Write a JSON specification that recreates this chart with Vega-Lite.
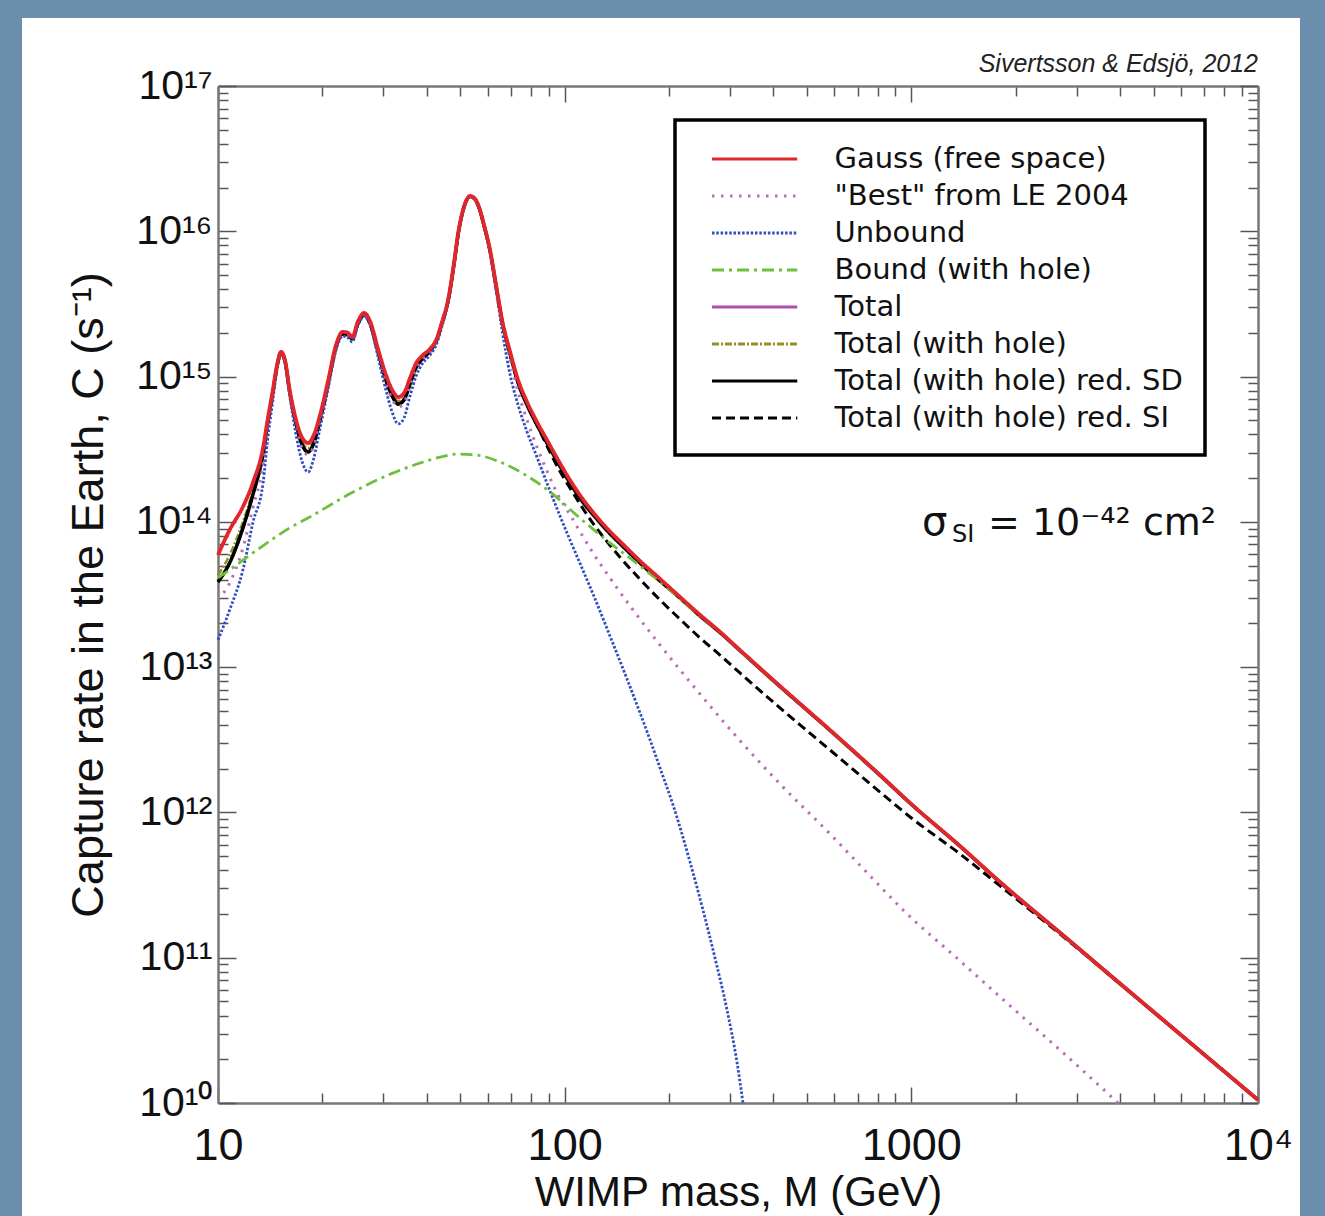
{
  "$schema": "https://vega.github.io/schema/vega-lite/v6.json",
  "width": 1278,
  "height": 1198,
  "autosize": {"type": "none"},
  "padding": {"left": 22, "top": 18, "right": 25, "bottom": 0},
  "background": "#6a8eab",
  "config": {
    "view": {"fill": "white", "stroke": null},
    "legend": {"strokeWidth": 3.5},
    "axis": {"grid": false}
  },
  "title": {"text": "Sivertsson & Edsjö, 2012", "anchor": "end", "orient": "top", "frame": "group", "offset": -79, "dx": -42, "font": "Liberation Sans", "fontStyle": "italic", "fontSize": 25, "fontWeight": "normal", "color": "#222", "baseline": "alphabetic"},
  "data": {"values": [
    {"s":"gauss","m":10,"c":5.92e13},{"s":"gauss","m":10.8,"c":8.79e13},{"s":"gauss","m":11.8,"c":1.27e14},{"s":"gauss","m":12.6,"c":1.85e14},{"s":"gauss","m":13.5,"c":3.27e14},{"s":"gauss","m":13.9,"c":5.02e14},{"s":"gauss","m":14.4,"c":8.09e14},{"s":"gauss","m":14.8,"c":1.2e15},{"s":"gauss","m":15.2,"c":1.48e15},{"s":"gauss","m":15.6,"c":1.3e15},{"s":"gauss","m":16.1,"c":8.09e14},{"s":"gauss","m":16.8,"c":5.02e14},{"s":"gauss","m":17.5,"c":3.78e14},{"s":"gauss","m":18.2,"c":3.49e14},{"s":"gauss","m":18.9,"c":3.96e14},{"s":"gauss","m":19.7,"c":5.44e14},{"s":"gauss","m":20.8,"c":9.47e14},{"s":"gauss","m":21.9,"c":1.65e15},{"s":"gauss","m":22.9,"c":2.03e15},{"s":"gauss","m":23.7,"c":2e15},{"s":"gauss","m":24.4,"c":1.87e15},{"s":"gauss","m":25.3,"c":2.38e15},{"s":"gauss","m":26.4,"c":2.74e15},{"s":"gauss","m":27.5,"c":2.38e15},{"s":"gauss","m":28.9,"c":1.57e15},{"s":"gauss","m":30.5,"c":1.03e15},{"s":"gauss","m":31.8,"c":8.09e14},{"s":"gauss","m":33.1,"c":7.23e14},{"s":"gauss","m":34.4,"c":7.71e14},{"s":"gauss","m":35.8,"c":9.77e14},{"s":"gauss","m":37.3,"c":1.24e15},{"s":"gauss","m":38.8,"c":1.39e15},{"s":"gauss","m":40.9,"c":1.55e15},{"s":"gauss","m":42.6,"c":1.79e15},{"s":"gauss","m":44.3,"c":2.38e15},{"s":"gauss","m":46.1,"c":3.37e15},{"s":"gauss","m":48,"c":6.15e15},{"s":"gauss","m":49.3,"c":9.73e15},{"s":"gauss","m":50.9,"c":1.4e16},{"s":"gauss","m":52.3,"c":1.67e16},{"s":"gauss","m":53.3,"c":1.75e16},{"s":"gauss","m":54.8,"c":1.7e16},{"s":"gauss","m":56.6,"c":1.47e16},{"s":"gauss","m":58.5,"c":1.11e16},{"s":"gauss","m":60.9,"c":7.43e15},{"s":"gauss","m":63.4,"c":4.27e15},{"s":"gauss","m":66,"c":2.45e15},{"s":"gauss","m":69.6,"c":1.48e15},{"s":"gauss","m":73.4,"c":9.47e14},{"s":"gauss","m":77.9,"c":6.68e14},{"s":"gauss","m":83.2,"c":4.87e14},{"s":"gauss","m":88.9,"c":3.66e14},{"s":"gauss","m":95.7,"c":2.67e14},{"s":"gauss","m":103.6,"c":1.94e14},{"s":"gauss","m":112.2,"c":1.46e14},{"s":"gauss","m":120.7,"c":1.164e14},{"s":"gauss","m":135.1,"c":8.59e13},{"s":"gauss","m":144.4,"c":7.34e13},{"s":"gauss","m":165,"c":5.38e13},{"s":"gauss","m":188.4,"c":4.05e13},{"s":"gauss","m":215.1,"c":3.04e13},{"s":"gauss","m":245.7,"c":2.29e13},{"s":"gauss","m":280.6,"c":1.75e13},{"s":"gauss","m":320.4,"c":1.31e13},{"s":"gauss","m":418,"c":7.41e12},{"s":"gauss","m":582.8,"c":3.69e12},{"s":"gauss","m":812,"c":1.81e12},{"s":"gauss","m":1000,"c":1.14e12},{"s":"gauss","m":1382,"c":5.87e11},{"s":"gauss","m":1803,"c":3.32e11},{"s":"gauss","m":2869,"c":1.3e11},{"s":"gauss","m":3920,"c":6.92e10},{"s":"gauss","m":6803,"c":2.28e10},{"s":"gauss","m":10000,"c":1.05e10},

    {"s":"tot","m":10,"c":5.92e13},{"s":"tot","m":10.8,"c":8.79e13},{"s":"tot","m":11.8,"c":1.27e14},{"s":"tot","m":12.6,"c":1.85e14},{"s":"tot","m":13.5,"c":3.27e14},{"s":"tot","m":13.9,"c":5.02e14},{"s":"tot","m":14.4,"c":8.09e14},{"s":"tot","m":14.8,"c":1.2e15},{"s":"tot","m":15.2,"c":1.48e15},{"s":"tot","m":15.6,"c":1.3e15},{"s":"tot","m":16.1,"c":8.09e14},{"s":"tot","m":16.8,"c":5.02e14},{"s":"tot","m":17.5,"c":3.78e14},{"s":"tot","m":18.2,"c":3.49e14},{"s":"tot","m":18.9,"c":3.96e14},{"s":"tot","m":19.7,"c":5.44e14},{"s":"tot","m":20.8,"c":9.47e14},{"s":"tot","m":21.9,"c":1.65e15},{"s":"tot","m":22.9,"c":2.03e15},{"s":"tot","m":23.7,"c":2e15},{"s":"tot","m":24.4,"c":1.87e15},{"s":"tot","m":25.3,"c":2.38e15},{"s":"tot","m":26.4,"c":2.74e15},{"s":"tot","m":27.5,"c":2.38e15},{"s":"tot","m":28.9,"c":1.57e15},{"s":"tot","m":30.5,"c":1.03e15},{"s":"tot","m":31.8,"c":8.09e14},{"s":"tot","m":33.1,"c":7.23e14},{"s":"tot","m":34.4,"c":7.71e14},{"s":"tot","m":35.8,"c":9.77e14},{"s":"tot","m":37.3,"c":1.24e15},{"s":"tot","m":38.8,"c":1.39e15},{"s":"tot","m":40.9,"c":1.55e15},{"s":"tot","m":42.6,"c":1.79e15},{"s":"tot","m":44.3,"c":2.38e15},{"s":"tot","m":46.1,"c":3.37e15},{"s":"tot","m":48,"c":6.15e15},{"s":"tot","m":49.3,"c":9.73e15},{"s":"tot","m":50.9,"c":1.4e16},{"s":"tot","m":52.3,"c":1.67e16},{"s":"tot","m":53.3,"c":1.75e16},{"s":"tot","m":54.8,"c":1.7e16},{"s":"tot","m":56.6,"c":1.47e16},{"s":"tot","m":58.5,"c":1.11e16},{"s":"tot","m":60.9,"c":7.43e15},{"s":"tot","m":63.4,"c":4.27e15},{"s":"tot","m":66,"c":2.45e15},{"s":"tot","m":69.6,"c":1.48e15},{"s":"tot","m":73.4,"c":9.47e14},{"s":"tot","m":77.9,"c":6.68e14},{"s":"tot","m":83.2,"c":4.87e14},{"s":"tot","m":88.9,"c":3.66e14},{"s":"tot","m":95.7,"c":2.67e14},{"s":"tot","m":103.6,"c":1.94e14},{"s":"tot","m":112.2,"c":1.46e14},{"s":"tot","m":120.7,"c":1.164e14},{"s":"tot","m":135.1,"c":8.59e13},{"s":"tot","m":144.4,"c":7.34e13},{"s":"tot","m":165,"c":5.38e13},{"s":"tot","m":188.4,"c":4.05e13},{"s":"tot","m":215.1,"c":3.04e13},{"s":"tot","m":245.7,"c":2.29e13},{"s":"tot","m":280.6,"c":1.75e13},{"s":"tot","m":320.4,"c":1.31e13},{"s":"tot","m":418,"c":7.41e12},{"s":"tot","m":582.8,"c":3.69e12},{"s":"tot","m":812,"c":1.81e12},{"s":"tot","m":1000,"c":1.14e12},{"s":"tot","m":1382,"c":5.87e11},{"s":"tot","m":1803,"c":3.32e11},{"s":"tot","m":2869,"c":1.3e11},{"s":"tot","m":3920,"c":6.92e10},{"s":"tot","m":6803,"c":2.28e10},{"s":"tot","m":10000,"c":1.05e10},

    {"s":"sd","m":10,"c":3.86e13},{"s":"sd","m":10.8,"c":5.21e13},{"s":"sd","m":11.8,"c":9.08e13},{"s":"sd","m":12.6,"c":1.53e14},{"s":"sd","m":13.5,"c":2.98e14},{"s":"sd","m":13.9,"c":4.72e14},{"s":"sd","m":14.4,"c":7.83e14},{"s":"sd","m":14.8,"c":1.18e15},{"s":"sd","m":15.2,"c":1.45e15},{"s":"sd","m":15.6,"c":1.28e15},{"s":"sd","m":16.1,"c":7.83e14},{"s":"sd","m":16.8,"c":4.72e14},{"s":"sd","m":17.5,"c":3.38e14},{"s":"sd","m":18.2,"c":3.03e14},{"s":"sd","m":18.9,"c":3.49e14},{"s":"sd","m":19.7,"c":5.02e14},{"s":"sd","m":20.8,"c":9.04e14},{"s":"sd","m":21.9,"c":1.6e15},{"s":"sd","m":22.9,"c":1.96e15},{"s":"sd","m":23.7,"c":1.93e15},{"s":"sd","m":24.4,"c":1.82e15},{"s":"sd","m":25.3,"c":2.3e15},{"s":"sd","m":26.4,"c":2.65e15},{"s":"sd","m":27.5,"c":2.3e15},{"s":"sd","m":28.9,"c":1.5e15},{"s":"sd","m":30.5,"c":9.47e14},{"s":"sd","m":31.8,"c":7.35e14},{"s":"sd","m":33.1,"c":6.47e14},{"s":"sd","m":34.4,"c":6.9e14},{"s":"sd","m":35.8,"c":8.89e14},{"s":"sd","m":37.3,"c":1.16e15},{"s":"sd","m":38.8,"c":1.32e15},{"s":"sd","m":40.9,"c":1.5e15},{"s":"sd","m":42.6,"c":1.76e15},{"s":"sd","m":44.3,"c":2.34e15},{"s":"sd","m":46.1,"c":3.31e15},{"s":"sd","m":48,"c":6.05e15},{"s":"sd","m":49.3,"c":9.58e15},{"s":"sd","m":50.9,"c":1.39e16},{"s":"sd","m":52.3,"c":1.66e16},{"s":"sd","m":53.3,"c":1.74e16},{"s":"sd","m":54.8,"c":1.69e16},{"s":"sd","m":56.6,"c":1.46e16},{"s":"sd","m":58.5,"c":1.1e16},{"s":"sd","m":60.9,"c":7.35e15},{"s":"sd","m":63.4,"c":4.2e15},{"s":"sd","m":66,"c":2.41e15},{"s":"sd","m":69.6,"c":1.43e15},{"s":"sd","m":73.4,"c":9.04e14},{"s":"sd","m":77.9,"c":6.37e14},{"s":"sd","m":83.2,"c":4.65e14},{"s":"sd","m":88.9,"c":3.49e14},{"s":"sd","m":95.7,"c":2.54e14},{"s":"sd","m":103.6,"c":1.85e14},{"s":"sd","m":112.2,"c":1.39e14},{"s":"sd","m":120.7,"c":1.123e14},{"s":"sd","m":135.1,"c":8.29e13},{"s":"sd","m":144.4,"c":7.08e13},{"s":"sd","m":165,"c":5.21e13},{"s":"sd","m":188.4,"c":3.92e13},{"s":"sd","m":215.1,"c":2.99e13},{"s":"sd","m":245.7,"c":2.25e13},{"s":"sd","m":280.6,"c":1.73e13},{"s":"sd","m":320.4,"c":1.3e13},{"s":"sd","m":418,"c":7.35e12},{"s":"sd","m":582.8,"c":3.67e12},{"s":"sd","m":812,"c":1.8e12},{"s":"sd","m":1000,"c":1.14e12},{"s":"sd","m":1382,"c":5.85e11},{"s":"sd","m":1803,"c":3.31e11},{"s":"sd","m":2869,"c":1.3e11},{"s":"sd","m":3920,"c":6.9e10},{"s":"sd","m":6803,"c":2.28e10},{"s":"sd","m":10000,"c":1.05e10},

    {"s":"toth","m":10,"c":4.3e13},{"s":"toth","m":10.8,"c":5.9e13},{"s":"toth","m":11.8,"c":1.0e14},{"s":"toth","m":12.6,"c":1.62e14},{"s":"toth","m":13.5,"c":3.05e14},{"s":"toth","m":13.9,"c":4.8e14},{"s":"toth","m":14.4,"c":7.9e14},{"s":"toth","m":14.8,"c":1.19e15},{"s":"toth","m":15.2,"c":1.46e15},{"s":"toth","m":15.6,"c":1.29e15},{"s":"toth","m":16.1,"c":7.9e14},{"s":"toth","m":16.8,"c":4.85e14},{"s":"toth","m":17.5,"c":3.55e14},{"s":"toth","m":18.2,"c":3.22e14},{"s":"toth","m":18.9,"c":3.7e14},{"s":"toth","m":19.7,"c":5.2e14},{"s":"toth","m":20.8,"c":9.2e14},{"s":"toth","m":21.9,"c":1.62e15},{"s":"toth","m":22.9,"c":1.99e15},{"s":"toth","m":23.7,"c":1.96e15},{"s":"toth","m":24.4,"c":1.84e15},{"s":"toth","m":25.3,"c":2.33e15},{"s":"toth","m":26.4,"c":2.69e15},{"s":"toth","m":27.5,"c":2.33e15},{"s":"toth","m":28.9,"c":1.53e15},{"s":"toth","m":30.5,"c":9.9e14},{"s":"toth","m":31.8,"c":7.6e14},{"s":"toth","m":33.1,"c":6.79e14},{"s":"toth","m":34.4,"c":7.2e14},{"s":"toth","m":35.8,"c":9.2e14},{"s":"toth","m":37.3,"c":1.19e15},{"s":"toth","m":38.8,"c":1.35e15},{"s":"toth","m":40.9,"c":1.52e15},{"s":"toth","m":42.6,"c":1.77e15},{"s":"toth","m":44.3,"c":2.35e15},{"s":"toth","m":46.1,"c":3.33e15},{"s":"toth","m":48,"c":6.08e15},{"s":"toth","m":49.3,"c":9.6e15},{"s":"toth","m":50.9,"c":1.39e16},{"s":"toth","m":52.3,"c":1.66e16},{"s":"toth","m":53.3,"c":1.74e16},{"s":"toth","m":54.8,"c":1.69e16},{"s":"toth","m":56.6,"c":1.46e16},{"s":"toth","m":58.5,"c":1.1e16},{"s":"toth","m":60.9,"c":7.38e15},{"s":"toth","m":63.4,"c":4.22e15},{"s":"toth","m":66,"c":2.42e15},{"s":"toth","m":69.6,"c":1.44e15},{"s":"toth","m":73.4,"c":9.1e14},{"s":"toth","m":77.9,"c":6.4e14},{"s":"toth","m":83.2,"c":4.67e14},{"s":"toth","m":88.9,"c":3.5e14},{"s":"toth","m":95.7,"c":2.55e14},{"s":"toth","m":103.6,"c":1.85e14},{"s":"toth","m":112.2,"c":1.39e14},{"s":"toth","m":120.7,"c":1.123e14},{"s":"toth","m":135.1,"c":8.29e13},{"s":"toth","m":144.4,"c":7.08e13},{"s":"toth","m":165,"c":5.21e13},{"s":"toth","m":188.4,"c":3.92e13},{"s":"toth","m":215.1,"c":2.99e13},{"s":"toth","m":245.7,"c":2.25e13},{"s":"toth","m":280.6,"c":1.73e13},{"s":"toth","m":320.4,"c":1.3e13},{"s":"toth","m":418,"c":7.35e12},{"s":"toth","m":582.8,"c":3.67e12},{"s":"toth","m":812,"c":1.8e12},{"s":"toth","m":1000,"c":1.14e12},{"s":"toth","m":1382,"c":5.85e11},{"s":"toth","m":1803,"c":3.31e11},{"s":"toth","m":2869,"c":1.3e11},{"s":"toth","m":3920,"c":6.9e10},{"s":"toth","m":6803,"c":2.28e10},{"s":"toth","m":10000,"c":1.05e10},

    {"s":"si","m":10,"c":3.86e13},{"s":"si","m":10.8,"c":5.21e13},{"s":"si","m":11.8,"c":9.08e13},{"s":"si","m":12.6,"c":1.53e14},{"s":"si","m":13.5,"c":2.98e14},{"s":"si","m":13.9,"c":4.72e14},{"s":"si","m":14.4,"c":7.83e14},{"s":"si","m":14.8,"c":1.18e15},{"s":"si","m":15.2,"c":1.45e15},{"s":"si","m":15.6,"c":1.28e15},{"s":"si","m":16.1,"c":7.83e14},{"s":"si","m":16.8,"c":4.72e14},{"s":"si","m":17.5,"c":3.38e14},{"s":"si","m":18.2,"c":3.03e14},{"s":"si","m":18.9,"c":3.49e14},{"s":"si","m":19.7,"c":5.02e14},{"s":"si","m":20.8,"c":9.04e14},{"s":"si","m":21.9,"c":1.6e15},{"s":"si","m":22.9,"c":1.96e15},{"s":"si","m":23.7,"c":1.93e15},{"s":"si","m":24.4,"c":1.82e15},{"s":"si","m":25.3,"c":2.3e15},{"s":"si","m":26.4,"c":2.65e15},{"s":"si","m":27.5,"c":2.3e15},{"s":"si","m":28.9,"c":1.5e15},{"s":"si","m":30.5,"c":9.47e14},{"s":"si","m":31.8,"c":7.35e14},{"s":"si","m":33.1,"c":6.47e14},{"s":"si","m":34.4,"c":6.9e14},{"s":"si","m":35.8,"c":8.89e14},{"s":"si","m":37.3,"c":1.16e15},{"s":"si","m":38.8,"c":1.32e15},{"s":"si","m":40.9,"c":1.5e15},{"s":"si","m":42.6,"c":1.76e15},{"s":"si","m":44.3,"c":2.34e15},{"s":"si","m":46.1,"c":3.31e15},{"s":"si","m":48,"c":6.05e15},{"s":"si","m":49.3,"c":9.58e15},{"s":"si","m":50.9,"c":1.39e16},{"s":"si","m":52.3,"c":1.66e16},{"s":"si","m":53.3,"c":1.74e16},{"s":"si","m":54.8,"c":1.69e16},{"s":"si","m":56.6,"c":1.46e16},{"s":"si","m":58.5,"c":1.1e16},{"s":"si","m":60.9,"c":7.35e15},{"s":"si","m":63.4,"c":4.2e15},{"s":"si","m":66,"c":2.41e15},{"s":"si","m":69.6,"c":1.43e15},{"s":"si","m":73.4,"c":9.04e14},{"s":"si","m":77.9,"c":6.37e14},{"s":"si","m":83.2,"c":4.65e14},{"s":"si","m":88.9,"c":3.33e14},{"s":"si","m":95.7,"c":2.35e14},{"s":"si","m":103.6,"c":1.71e14},{"s":"si","m":112.2,"c":1.262e14},{"s":"si","m":120.7,"c":9.77e13},{"s":"si","m":135.1,"c":6.9e13},{"s":"si","m":144.4,"c":5.71e13},{"s":"si","m":165,"c":4.02e13},{"s":"si","m":188.4,"c":2.9e13},{"s":"si","m":215.1,"c":2.14e13},{"s":"si","m":245.7,"c":1.59e13},{"s":"si","m":280.6,"c":1.21e13},{"s":"si","m":320.4,"c":9.12e12},{"s":"si","m":418,"c":5.24e12},{"s":"si","m":582.8,"c":2.69e12},{"s":"si","m":812,"c":1.38e12},{"s":"si","m":1000,"c":9.16e11},{"s":"si","m":1382,"c":5.18e11},{"s":"si","m":1803,"c":3.12e11},{"s":"si","m":2869,"c":1.28e11},{"s":"si","m":3920,"c":6.9e10},{"s":"si","m":6803,"c":2.28e10},{"s":"si","m":10000,"c":1.05e10},

    {"s":"best","m":10,"c":2.9e13},{"s":"best","m":10.8,"c":3.79e13},{"s":"best","m":11.8,"c":6.61e13},{"s":"best","m":12.6,"c":1.25e14},{"s":"best","m":13.5,"c":2.54e14},{"s":"best","m":13.9,"c":4.6e14},{"s":"best","m":14.4,"c":7.8e14},{"s":"best","m":14.8,"c":1.17e15},{"s":"best","m":15.2,"c":1.44e15},{"s":"best","m":15.6,"c":1.27e15},{"s":"best","m":16.1,"c":7.7e14},{"s":"best","m":16.8,"c":4.5e14},{"s":"best","m":17.5,"c":3.2e14},{"s":"best","m":18.2,"c":2.9e14},{"s":"best","m":18.9,"c":3.35e14},{"s":"best","m":19.7,"c":4.9e14},{"s":"best","m":20.8,"c":8.9e14},{"s":"best","m":21.9,"c":1.58e15},{"s":"best","m":22.9,"c":1.95e15},{"s":"best","m":23.7,"c":1.92e15},{"s":"best","m":24.4,"c":1.8e15},{"s":"best","m":25.3,"c":2.28e15},{"s":"best","m":26.4,"c":2.64e15},{"s":"best","m":27.5,"c":2.28e15},{"s":"best","m":28.9,"c":1.47e15},{"s":"best","m":30.5,"c":9.1e14},{"s":"best","m":31.8,"c":7.0e14},{"s":"best","m":33.1,"c":6.2e14},{"s":"best","m":34.4,"c":6.6e14},{"s":"best","m":35.8,"c":8.6e14},{"s":"best","m":37.3,"c":1.13e15},{"s":"best","m":38.8,"c":1.3e15},{"s":"best","m":40.9,"c":1.48e15},{"s":"best","m":42.6,"c":1.74e15},{"s":"best","m":44.3,"c":2.32e15},{"s":"best","m":46.1,"c":3.3e15},{"s":"best","m":48,"c":6.03e15},{"s":"best","m":49.3,"c":9.55e15},{"s":"best","m":50.9,"c":1.39e16},{"s":"best","m":52.3,"c":1.65e16},{"s":"best","m":53.3,"c":1.73e16},{"s":"best","m":54.8,"c":1.68e16},{"s":"best","m":56.6,"c":1.45e16},{"s":"best","m":58.5,"c":1.1e16},{"s":"best","m":60.9,"c":7.3e15},{"s":"best","m":63.4,"c":4.15e15},{"s":"best","m":66,"c":2.38e15},{"s":"best","m":69.6,"c":1.34e15},{"s":"best","m":73.4,"c":7.83e14},{"s":"best","m":77.9,"c":5.02e14},{"s":"best","m":83.2,"c":3.27e14},{"s":"best","m":88.9,"c":2.24e14},{"s":"best","m":95.7,"c":1.53e14},{"s":"best","m":103.6,"c":1.12e14},{"s":"best","m":112.2,"c":8.13e13},{"s":"best","m":120.7,"c":6.11e13},{"s":"best","m":135.1,"c":4.11e13},{"s":"best","m":154.3,"c":2.64e13},{"s":"best","m":188.4,"c":1.42e13},{"s":"best","m":245.7,"c":6.53e12},{"s":"best","m":326.9,"c":2.96e12},{"s":"best","m":418,"c":1.57e12},{"s":"best","m":582.8,"c":7.11e11},{"s":"best","m":760,"c":3.66e11},{"s":"best","m":958.8,"c":2.07e11},{"s":"best","m":1382,"c":9.51e10},{"s":"best","m":1803,"c":5.37e10},{"s":"best","m":2869,"c":2.01e10},{"s":"best","m":3950,"c":1.0e10},

    {"s":"unb","m":10,"c":1.54e13},{"s":"unb","m":10.8,"c":2.47e13},{"s":"unb","m":11.8,"c":4.67e13},{"s":"unb","m":12.6,"c":9.82e13},{"s":"unb","m":13.5,"c":1.88e14},{"s":"unb","m":13.9,"c":3.66e14},{"s":"unb","m":14.4,"c":6.9e14},{"s":"unb","m":14.8,"c":1.11e15},{"s":"unb","m":15.2,"c":1.43e15},{"s":"unb","m":15.6,"c":1.24e15},{"s":"unb","m":16.1,"c":7.35e14},{"s":"unb","m":16.8,"c":3.96e14},{"s":"unb","m":17.5,"c":2.58e14},{"s":"unb","m":18.2,"c":2.2e14},{"s":"unb","m":18.9,"c":2.75e14},{"s":"unb","m":19.7,"c":4.43e14},{"s":"unb","m":20.8,"c":8.34e14},{"s":"unb","m":21.9,"c":1.52e15},{"s":"unb","m":22.9,"c":1.9e15},{"s":"unb","m":23.7,"c":1.85e15},{"s":"unb","m":24.4,"c":1.73e15},{"s":"unb","m":25.3,"c":2.23e15},{"s":"unb","m":26.4,"c":2.61e15},{"s":"unb","m":27.5,"c":2.23e15},{"s":"unb","m":28.9,"c":1.39e15},{"s":"unb","m":30.5,"c":8.09e14},{"s":"unb","m":31.8,"c":5.7e14},{"s":"unb","m":33.1,"c":4.72e14},{"s":"unb","m":34.4,"c":5.19e14},{"s":"unb","m":35.8,"c":7.35e14},{"s":"unb","m":37.3,"c":1.01e15},{"s":"unb","m":38.8,"c":1.22e15},{"s":"unb","m":40.9,"c":1.41e15},{"s":"unb","m":42.6,"c":1.65e15},{"s":"unb","m":44.3,"c":2.23e15},{"s":"unb","m":46.1,"c":3.21e15},{"s":"unb","m":48,"c":5.96e15},{"s":"unb","m":49.3,"c":9.42e15},{"s":"unb","m":50.9,"c":1.38e16},{"s":"unb","m":52.3,"c":1.64e16},{"s":"unb","m":53.3,"c":1.72e16},{"s":"unb","m":54.8,"c":1.67e16},{"s":"unb","m":56.6,"c":1.45e16},{"s":"unb","m":58.5,"c":1.09e16},{"s":"unb","m":60.9,"c":7.2e15},{"s":"unb","m":63.4,"c":3.94e15},{"s":"unb","m":66,"c":2.09e15},{"s":"unb","m":69.6,"c":1.03e15},{"s":"unb","m":73.4,"c":6.37e14},{"s":"unb","m":77.9,"c":4.16e14},{"s":"unb","m":83.2,"c":2.79e14},{"s":"unb","m":88.9,"c":1.85e14},{"s":"unb","m":96.9,"c":1.1e14},{"s":"unb","m":103.6,"c":7.5e13},{"s":"unb","m":112.2,"c":4.81e13},{"s":"unb","m":120.7,"c":3.19e13},{"s":"unb","m":135.1,"c":1.64e13},{"s":"unb","m":151.3,"c":8.29e12},{"s":"unb","m":165,"c":4.83e12},{"s":"unb","m":176.3,"c":3.16e12},{"s":"unb","m":188.4,"c":2.02e12},{"s":"unb","m":205.3,"c":1.13e12},{"s":"unb","m":229.9,"c":4.56e11},{"s":"unb","m":250.6,"c":2.13e11},{"s":"unb","m":271.4,"c":9.96e10},{"s":"unb","m":294,"c":4.37e10},{"s":"unb","m":314.1,"c":1.91e10},{"s":"unb","m":326.9,"c":1.0e10},

    {"s":"bound","m":10,"c":4.11e13},{"s":"bound","m":10.8,"c":4.67e13},{"s":"bound","m":13.2,"c":6.61e13},{"s":"bound","m":16.1,"c":9.08e13},{"s":"bound","m":18.4,"c":1.08e14},{"s":"bound","m":24,"c":1.56e14},{"s":"bound","m":31.4,"c":2.13e14},{"s":"bound","m":38.3,"c":2.54e14},{"s":"bound","m":43.7,"c":2.79e14},{"s":"bound","m":48.9,"c":2.93e14},{"s":"bound","m":55.9,"c":2.88e14},{"s":"bound","m":65.1,"c":2.58e14},{"s":"bound","m":77.9,"c":2.07e14},{"s":"bound","m":90.7,"c":1.61e14},{"s":"bound","m":110.7,"c":1.06e14},{"s":"bound","m":135.1,"c":7.16e13},{"s":"bound","m":165,"c":4.97e13},{"s":"bound","m":201,"c":3.4e13},{"s":"bound","m":245.7,"c":2.25e13},{"s":"bound","m":280.6,"c":1.73e13},{"s":"bound","m":320.4,"c":1.3e13},{"s":"bound","m":418,"c":7.35e12},{"s":"bound","m":582.8,"c":3.67e12},{"s":"bound","m":812,"c":1.8e12},{"s":"bound","m":1000,"c":1.14e12},{"s":"bound","m":1382,"c":5.85e11},{"s":"bound","m":1803,"c":3.31e11},{"s":"bound","m":2869,"c":1.3e11},{"s":"bound","m":3920,"c":6.9e10},{"s":"bound","m":6803,"c":2.28e10},{"s":"bound","m":10000,"c":1.05e10}
  ]},
  "layer": [
    {
      "encoding": {
        "x": {"field": "m", "type": "quantitative",
          "scale": {"type": "log", "domain": [10, 10000], "range": [196, 1236], "nice": false},
          "axis": {"orient": "bottom", "offset": -113,
            "values": [10,20,30,40,50,60,70,80,90,100,200,300,400,500,600,700,800,900,1000,2000,3000,4000,5000,6000,7000,8000,9000,10000],
            "labelExpr": "datum.value==10?'10':datum.value==100?'100':datum.value==1000?'1000':datum.value==10000?'10⁴':''",
            "labelFont": "Liberation Sans", "labelFontSize": 45, "labelColor": "#111", "labelPadding": 36,
            "labelFlush": false, "labelOverlap": false,
            "tickSize": {"condition": {"test": "indexof([10,100,1000,10000], datum.value) >= 0", "value": -16}, "value": -10},
            "tickColor": "#555", "tickWidth": 1.5, "domainColor": "#777", "domainWidth": 2.5,
            "title": "WIMP mass, M (GeV)", "titleFont": "Liberation Sans", "titleFontSize": 42, "titleFontWeight": "normal", "titleColor": "#111",
            "titleBaseline": "alphabetic", "titleY": 102}},
        "y": {"field": "c", "type": "quantitative",
          "scale": {"type": "log", "domain": [1e10, 1e17], "range": [1085, 68], "nice": false},
          "axis": {"orient": "left", "offset": -196,
            "values": [1e10,2e10,3e10,4e10,5e10,6e10,7e10,8e10,9e10,1e11,2e11,3e11,4e11,5e11,6e11,7e11,8e11,9e11,1e12,2e12,3e12,4e12,5e12,6e12,7e12,8e12,9e12,1e13,2e13,3e13,4e13,5e13,6e13,7e13,8e13,9e13,1e14,2e14,3e14,4e14,5e14,6e14,7e14,8e14,9e14,1e15,2e15,3e15,4e15,5e15,6e15,7e15,8e15,9e15,1e16,2e16,3e16,4e16,5e16,6e16,7e16,8e16,9e16,1e17],
            "labelExpr": "datum.value==1e10?'10¹⁰':datum.value==1e11?'10¹¹':datum.value==1e12?'10¹²':datum.value==1e13?'10¹³':datum.value==1e14?'10¹⁴':datum.value==1e15?'10¹⁵':datum.value==1e16?'10¹⁶':datum.value==1e17?'10¹⁷':''",
            "labelFont": "Liberation Sans", "labelFontSize": 41, "labelColor": "#111", "labelPadding": 24,
            "labelFlush": false, "labelOverlap": false,
            "tickSize": {"condition": {"test": "indexof([1e10,1e11,1e12,1e13,1e14,1e15,1e16,1e17], datum.value) >= 0", "value": -18}, "value": -10},
            "tickColor": "#555", "tickWidth": 1.5, "domainColor": "#777", "domainWidth": 2.5,
            "title": "Capture rate in the Earth, C (s⁻¹)", "titleFont": "Liberation Sans", "titleFontSize": 45, "titleFontWeight": "normal", "titleColor": "#111",
            "titleBaseline": "alphabetic", "titleX": -116}},
        "color": {"field": "s", "type": "nominal",
          "scale": {"domain": ["gauss","best","unb","bound","tot","toth","sd","si"], "range": ["#e1262c","#b86cba","#2f4fbf","#6dbf3c","#b24fae","#8f8f24","#000000","#000000"]},
          "legend": {"orient": "none", "legendX": 653, "legendY": 102, "title": null, "padding": 22, "strokeColor": "black", "fillColor": "white",
            "labelFont": "DejaVu Sans", "labelFontSize": 29, "labelColor": "#111", "labelLimit": 600, "labelOffset": 90,
            "symbolType": "M-1,0H4.5", "symbolSize": 961, "symbolStrokeWidth": 3, "symbolOffset": 13.5, "rowPadding": 5,
            "labelExpr": "datum.label=='gauss'?'Gauss (free space)':datum.label=='best'?'\"Best\" from LE 2004':datum.label=='unb'?'Unbound':datum.label=='bound'?'Bound (with hole)':datum.label=='tot'?'Total':datum.label=='toth'?'Total (with hole)':datum.label=='sd'?'Total (with hole) red. SD':'Total (with hole) red. SI'"}},
        "strokeDash": {"field": "s", "type": "nominal",
          "scale": {"domain": ["gauss","best","unb","bound","tot","toth","sd","si"], "range": [[1,0],[2.5,6.5],[2.5,1.8],[12,5,3,5],[1,0],[7,2,2,2],[1,0],[9,5]]},
          "legend": {"orient": "none", "legendX": 653, "legendY": 102, "title": null, "padding": 22, "strokeColor": "black", "fillColor": "white",
            "labelFont": "DejaVu Sans", "labelFontSize": 29, "labelColor": "#111", "labelLimit": 600, "labelOffset": 90,
            "symbolType": "M-1,0H4.5", "symbolSize": 961, "symbolStrokeWidth": 3, "symbolOffset": 13.5, "rowPadding": 5,
            "labelExpr": "datum.label=='gauss'?'Gauss (free space)':datum.label=='best'?'\"Best\" from LE 2004':datum.label=='unb'?'Unbound':datum.label=='bound'?'Bound (with hole)':datum.label=='tot'?'Total':datum.label=='toth'?'Total (with hole)':datum.label=='sd'?'Total (with hole) red. SD':'Total (with hole) red. SI'"}}
      },
      "layer": [
        {"transform": [{"filter": "datum.s=='tot'"}], "mark": {"type": "line", "strokeWidth": 2.5, "interpolate": "monotone"}},
        {"transform": [{"filter": "datum.s=='toth'"}], "mark": {"type": "line", "strokeWidth": 2.5, "interpolate": "monotone"}},
        {"transform": [{"filter": "datum.s=='sd'"}], "mark": {"type": "line", "strokeWidth": 3.5, "interpolate": "monotone"}},
        {"transform": [{"filter": "datum.s=='si'"}], "mark": {"type": "line", "strokeWidth": 3, "interpolate": "monotone"}},
        {"transform": [{"filter": "datum.s=='best'"}], "mark": {"type": "line", "strokeWidth": 3, "interpolate": "monotone"}},
        {"transform": [{"filter": "datum.s=='unb'"}], "mark": {"type": "line", "strokeWidth": 2.8, "interpolate": "monotone"}},
        {"transform": [{"filter": "datum.s=='bound'"}], "mark": {"type": "line", "strokeWidth": 2.8, "interpolate": "monotone"}},
        {"transform": [{"filter": "datum.s=='gauss'"}], "mark": {"type": "line", "strokeWidth": 3.8, "interpolate": "monotone"}}
      ]
    },
    {
      "data": {"values": [{"m": 10, "c": 1e17}]},
      "mark": {"type": "point", "opacity": 0},
      "encoding": {
        "x": {"field": "m", "type": "quantitative",
          "scale": {"type": "log", "domain": [10, 10000], "range": [196, 1236], "nice": false},
          "axis": {"orient": "top", "offset": -68, "labels": false, "title": null,
            "values": [10,20,30,40,50,60,70,80,90,100,200,300,400,500,600,700,800,900,1000,2000,3000,4000,5000,6000,7000,8000,9000,10000],
            "tickSize": {"condition": {"test": "indexof([10,100,1000,10000], datum.value) >= 0", "value": -16}, "value": -10},
            "tickColor": "#555", "tickWidth": 1.5, "domainColor": "#777", "domainWidth": 2.5}},
        "y": {"field": "c", "type": "quantitative",
          "scale": {"type": "log", "domain": [1e10, 1e17], "range": [1085, 68], "nice": false},
          "axis": {"orient": "right", "offset": -42, "labels": false, "title": null,
            "values": [1e10,2e10,3e10,4e10,5e10,6e10,7e10,8e10,9e10,1e11,2e11,3e11,4e11,5e11,6e11,7e11,8e11,9e11,1e12,2e12,3e12,4e12,5e12,6e12,7e12,8e12,9e12,1e13,2e13,3e13,4e13,5e13,6e13,7e13,8e13,9e13,1e14,2e14,3e14,4e14,5e14,6e14,7e14,8e14,9e14,1e15,2e15,3e15,4e15,5e15,6e15,7e15,8e15,9e15,1e16,2e16,3e16,4e16,5e16,6e16,7e16,8e16,9e16,1e17],
            "tickSize": {"condition": {"test": "indexof([1e10,1e11,1e12,1e13,1e14,1e15,1e16,1e17], datum.value) >= 0", "value": -18}, "value": -10},
            "tickColor": "#555", "tickWidth": 1.5, "domainColor": "#777", "domainWidth": 2.5}}
      }
    },
    {
      "data": {"values": [{"t": "σ", "m": 1074, "c": 8.13e13}]},
      "mark": {"type": "text", "font": "DejaVu Sans", "fontSize": 40, "align": "left", "baseline": "alphabetic", "color": "#111"},
      "encoding": {
        "x": {"field": "m", "type": "quantitative", "scale": {"type": "log", "domain": [10, 10000], "range": [196, 1236], "nice": false}, "axis": null},
        "y": {"field": "c", "type": "quantitative", "scale": {"type": "log", "domain": [1e10, 1e17], "range": [1085, 68], "nice": false}, "axis": null},
        "text": {"field": "t"}
      }
    },
    {
      "data": {"values": [{"t": "SI", "m": 1310, "c": 7.27e13}]},
      "mark": {"type": "text", "font": "DejaVu Sans", "fontSize": 24, "align": "left", "baseline": "alphabetic", "color": "#111"},
      "encoding": {
        "x": {"field": "m", "type": "quantitative", "scale": {"type": "log", "domain": [10, 10000], "range": [196, 1236], "nice": false}, "axis": null},
        "y": {"field": "c", "type": "quantitative", "scale": {"type": "log", "domain": [1e10, 1e17], "range": [1085, 68], "nice": false}, "axis": null},
        "text": {"field": "t"}
      }
    },
    {
      "data": {"values": [{"t": "= 10⁻⁴² cm²", "m": 1664, "c": 8.13e13}]},
      "mark": {"type": "text", "font": "DejaVu Sans", "fontSize": 38, "align": "left", "baseline": "alphabetic", "color": "#111"},
      "encoding": {
        "x": {"field": "m", "type": "quantitative", "scale": {"type": "log", "domain": [10, 10000], "range": [196, 1236], "nice": false}, "axis": null},
        "y": {"field": "c", "type": "quantitative", "scale": {"type": "log", "domain": [1e10, 1e17], "range": [1085, 68], "nice": false}, "axis": null},
        "text": {"field": "t"}
      }
    }
  ],
  "resolve": {"axis": {"x": "independent", "y": "independent"}}
}
